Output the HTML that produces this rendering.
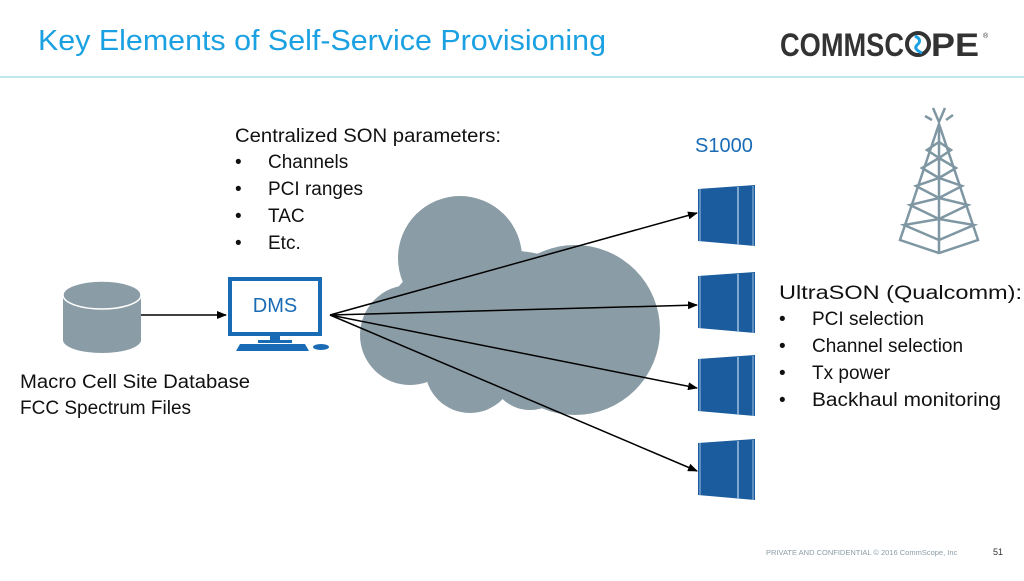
<!DOCTYPE html>
<html><head><meta charset="utf-8"><style>
body{margin:0;width:1024px;height:576px;background:#fff;overflow:hidden;font-family:"Liberation Sans",sans-serif}
</style></head><body>
<svg width="1024" height="576" viewBox="0 0 1024 576" xmlns="http://www.w3.org/2000/svg">
<defs><marker id="ah" markerWidth="10" markerHeight="8" refX="9" refY="4" orient="auto" markerUnits="userSpaceOnUse"><path d="M0,0 L10,4 L0,8 Z" fill="#000"/></marker></defs>
<text x="38" y="50" font-size="29" fill="#1ba1e2" font-family="Liberation Sans, sans-serif" textLength="568" lengthAdjust="spacingAndGlyphs">Key Elements of Self-Service Provisioning</text>
<text x="780" y="56" font-size="32" font-weight="bold" fill="#333" textLength="124" lengthAdjust="spacingAndGlyphs">COMMSC</text>
<circle cx="918" cy="44" r="11" fill="#fff" stroke="#333" stroke-width="4"/>
<path d="M915,36 q8,4 2,9 q-4,4 5,8" stroke="#1ba1e2" stroke-width="3" fill="none"/>
<text x="931" y="56" font-size="32" font-weight="bold" fill="#333" textLength="48" lengthAdjust="spacingAndGlyphs">PE</text>
<text x="983" y="38" font-size="7" fill="#333">®</text>
<line x1="0" y1="77" x2="1024" y2="77" stroke="#bfe7ee" stroke-width="2"/>
<!-- cloud -->
<g fill="#8a9ca6">
<circle cx="460" cy="258" r="62"/>
<circle cx="575" cy="330" r="85"/>
<circle cx="410" cy="335" r="50"/>
<circle cx="470" cy="368" r="45"/>
<circle cx="530" cy="370" r="40"/>
<ellipse cx="500" cy="310" rx="110" ry="60"/>
</g>
<!-- db -->
<path d="M63,295 L63,340 A39,13 0 0 0 141,340 L141,295 Z" fill="#8a9ca6"/>
<ellipse cx="102" cy="295" rx="39" ry="14" fill="#8a9ca6" stroke="#fff" stroke-width="1.5"/>
<line x1="141" y1="315" x2="226" y2="315" stroke="#000" stroke-width="1.5" marker-end="url(#ah)"/>
<!-- monitor -->
<rect x="230" y="279" width="90" height="55" fill="#fff" stroke="#1a6bb5" stroke-width="4"/>
<text x="275" y="312" font-size="20" fill="#1a6bb5" text-anchor="middle">DMS</text>
<rect x="270" y="336" width="10" height="5" fill="#1a6bb5"/>
<rect x="258" y="340" width="34" height="3" fill="#1a6bb5"/>
<path d="M236,351 L240,344 L305,344 L309,351 Z" fill="#1a6bb5"/>
<ellipse cx="321" cy="347" rx="8" ry="3" fill="#1a6bb5"/>
<g stroke="#000" stroke-width="1.5" marker-end="url(#ah)">
<line x1="330" y1="315" x2="697" y2="213"/>
<line x1="330" y1="315" x2="697" y2="305"/>
<line x1="330" y1="315" x2="697" y2="388"/>
<line x1="330" y1="315" x2="697" y2="471"/>
</g>
<text x="235" y="142" font-size="19" fill="#111" textLength="266" lengthAdjust="spacingAndGlyphs">Centralized SON parameters:</text>
<g font-size="19" fill="#111">
<text x="235" y="168">•</text><text x="268" y="168">Channels</text>
<text x="235" y="195">•</text><text x="268" y="195">PCI ranges</text>
<text x="235" y="222">•</text><text x="268" y="222">TAC</text>
<text x="235" y="249">•</text><text x="268" y="249">Etc.</text>
</g>
<text x="695" y="152" font-size="20" fill="#1a6bb5">S1000</text>
<text x="20" y="388" font-size="19" fill="#111" textLength="230" lengthAdjust="spacingAndGlyphs">Macro Cell Site Database</text>
<text x="20" y="414" font-size="19" fill="#111">FCC Spectrum Files</text>
<g font-size="19" fill="#111">
<text x="779" y="299" textLength="243" lengthAdjust="spacingAndGlyphs">UltraSON (Qualcomm):</text>
<text x="779" y="325">•</text><text x="812" y="325">PCI selection</text>
<text x="779" y="352">•</text><text x="812" y="352">Channel selection</text>
<text x="779" y="379">•</text><text x="812" y="379">Tx power</text>
<text x="779" y="406">•</text><text x="812" y="406" textLength="189" lengthAdjust="spacingAndGlyphs">Backhaul monitoring</text>
</g>
<!-- servers -->
<g id="srv">
<path d="M698,189 L755,185 L755,246 L698,241 Z" fill="#1a5c9e"/>
<line x1="700" y1="189" x2="700" y2="241" stroke="#9fc0e0" stroke-width="1"/>
<line x1="738" y1="187" x2="738" y2="245" stroke="#9fc0e0" stroke-width="1.5"/>
<line x1="753" y1="186" x2="753" y2="246" stroke="#9fc0e0" stroke-width="1"/>
</g>
<use href="#srv" y="87"/>
<use href="#srv" y="170"/>
<use href="#srv" y="254"/>
<!-- tower -->
<g stroke="#7f97a3" stroke-width="2.5" fill="none">
<path d="M939,124 L900,240 L939,253 L978,240 Z"/>
<line x1="939" y1="124" x2="939" y2="253"/>
<path d="M927,150 L939,158 L951,150 L939,142 Z"/>
<path d="M922,168 L939,178 L956,168 L939,158 Z"/>
<path d="M916,186 L939,198 L962,186 L939,178 Z"/>
<path d="M910,205 L939,219 L968,205 L939,198 Z"/>
<path d="M904,225 L939,240 L974,225 L939,219 Z"/>
<path d="M933,108 L939,122 L945,108 M925,116 L932,120 M946,120 L953,115"/>
</g>
<text x="766" y="555" font-size="7.5" fill="#8a9ca6">PRIVATE AND CONFIDENTIAL © 2016  CommScope, Inc</text>
<text x="993" y="555" font-size="9" fill="#333">51</text>
</svg>
</body></html>
